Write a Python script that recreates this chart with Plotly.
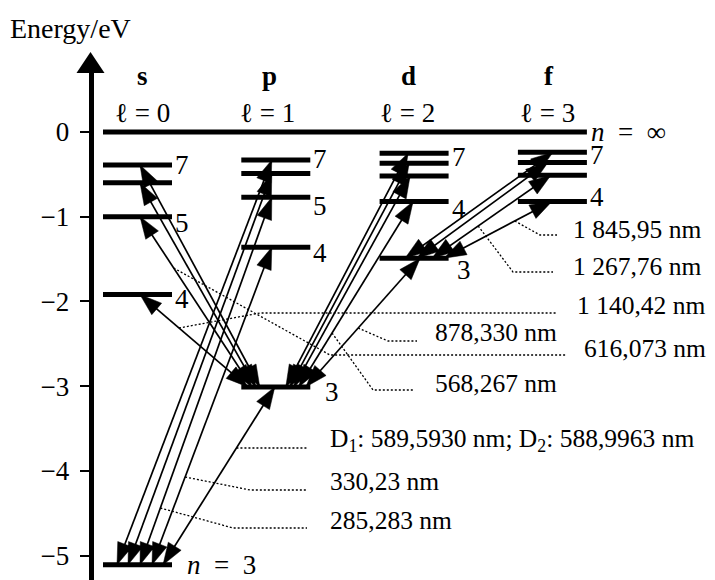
import plotly.graph_objects as go

# ---------------- data ----------------
columns = ["s", "p", "d", "f"]
l_labels = ["ℓ = 0", "ℓ = 1", "ℓ = 2", "ℓ = 3"]

s_n = [3, 4, 5, 6, 7]
s_energy = [-5.11, -1.92, -1.00, -0.60, -0.39]
p_n = [3, 4, 5, 6, 7]
p_energy = [-3.01, -1.36, -0.77, -0.49, -0.33]
d_n = [3, 4, 5, 6, 7]
d_energy = [-1.49, -0.82, -0.52, -0.37, -0.25]
f_n = [4, 5, 6, 7]
f_energy = [-0.82, -0.51, -0.36, -0.24]
ionization_energy = 0.0

energy_ticks = [0, -1, -2, -3, -4, -5]

# transitions between two levels (upper n listed per series)
transitions_s_3p = [4, 5, 6, 7]      # ns  <-> 3p
transitions_p_3s = [3, 4, 5, 6, 7]   # np  <-> 3s
transitions_d_3p = [3, 4, 5, 6, 7]   # nd  <-> 3p
transitions_f_3d = [4, 5, 6, 7]      # nf  <-> 3d

wavelength_labels = ["1 845,95 nm", "1 267,76 nm", "1 140,42 nm", "878,330 nm",
                     "616,073 nm", "568,267 nm",
                     "D<sub>1</sub>: 589,5930 nm; D<sub>2</sub>: 588,9963 nm",
                     "330,23 nm", "285,283 nm"]
wavelength_lines = [("f", 4), ("f", 5), ("s", 4), ("d", 3), ("s", 5), ("d", 4),
                    ("p", 3), ("p", 4), ("p", 5)]

# numbers written next to levels
level_number_labels = [("s", 7), ("s", 5), ("s", 4), ("p", 7), ("p", 5), ("p", 4),
                       ("p", 3), ("d", 7), ("d", 4), ("d", 3), ("f", 7), ("f", 4)]

# ---------------- layout geometry ----------------
# the page body has an 8 px margin, so the figure starts at screen (8, 8)
PAGE = 8
SW, SH = 715, 580            # screen size
W, H = SW - PAGE, SH - PAGE  # figure size
TOP_PX = 70                  # screen y of the top of the plot area
MT = TOP_PX - PAGE
X_PX0, COL_PX = 137.5, 138.3  # screen px of column 0 centre, px per column
E_PX0, EV_PX = 132.0, 84.7    # screen px of 0 eV, px per eV
HALF = 34.5 / COL_PX          # half width of a level bar
AXIS_PX = 90.5


def xd(px):
    return (px - X_PX0) / COL_PX


def yd(py):
    return (E_PX0 - py) / EV_PX


x_range = [xd(PAGE), xd(SW)]
y_range = [yd(SH), yd(TOP_PX)]
PXX = W / (x_range[1] - x_range[0])
PXY = (H - MT) / (y_range[1] - y_range[0])


def paper_x(px):
    return (px - PAGE) / W


def paper_y(py):
    return (SH - py) / (H - MT)


FONT = "Liberation Serif, Times New Roman, serif"
levels = {"s": dict(zip(s_n, s_energy)), "p": dict(zip(p_n, p_energy)),
          "d": dict(zip(d_n, d_energy)), "f": dict(zip(f_n, f_energy))}
ci = {c: i for i, c in enumerate(columns)}

fig = go.Figure()

# ---- level bars ----
lx, ly = [], []
for c in columns:
    for n, e in levels[c].items():
        lx += [ci[c] - HALF, ci[c] + HALF, None]
        ly += [e, e, None]
lx += [ci["s"] - HALF, ci["f"] + HALF, None]
ly += [ionization_energy, ionization_energy, None]
fig.add_trace(go.Scatter(x=lx, y=ly, mode="lines", line=dict(color="black", width=5),
                         hoverinfo="skip", showlegend=False))

# ---- transitions: endpoint offsets (px from column centre) ----
s3p_s_off = {4: 2.5, 5: 2.5, 6: 2.5, 7: 2.5}
s3p_p_off = {4: -28, 5: -24, 6: -20, 7: -16}
p3s_p_off = {3: -1, 4: -4, 5: -4, 6: -4, 7: -4}
p3s_s_off = {3: 25.5, 4: 14.5, 5: 2.5, 6: -9.5, 7: -20.5}
d3p_p_off = {3: 30, 4: 23, 5: 18, 6: 14, 7: 10}
d3p_d_off = {3: 6, 4: -1, 5: -4, 6: -5, 7: -6}
f3d_d_off = {4: 30, 5: 18, 6: 3, 7: -9}
f3d_f_off = {4: -0.5, 5: -1.5, 6: -4.5, 7: 0.5}

segments = {}
for n in transitions_s_3p:
    segments[("s", n)] = ((ci["p"] + s3p_p_off[n] / COL_PX, levels["p"][3]),
                          (ci["s"] + s3p_s_off[n] / COL_PX, levels["s"][n]))
for n in transitions_p_3s:
    segments[("p", n)] = ((ci["s"] + p3s_s_off[n] / COL_PX, levels["s"][3]),
                          (ci["p"] + p3s_p_off[n] / COL_PX, levels["p"][n]))
for n in transitions_d_3p:
    segments[("d", n)] = ((ci["p"] + d3p_p_off[n] / COL_PX, levels["p"][3]),
                          (ci["d"] + d3p_d_off[n] / COL_PX, levels["d"][n]))
for n in transitions_f_3d:
    segments[("f", n)] = ((ci["d"] + f3d_d_off[n] / COL_PX, levels["d"][3]),
                          (ci["f"] + f3d_f_off[n] / COL_PX, levels["f"][n]))

HEAD_L, HEAD_W = 22.0, 7.6


def head(tip, tail):
    tx, ty = tip[0] * PXX, tip[1] * PXY
    bx, by = tail[0] * PXX, tail[1] * PXY
    dx, dy = bx - tx, by - ty
    ln = (dx * dx + dy * dy) ** 0.5
    ux, uy = dx / ln, dy / ln
    cx, cy = tx + HEAD_L * ux, ty + HEAD_L * uy
    nx, ny = -uy, ux
    pts = [(tx, ty), (cx + HEAD_W * nx, cy + HEAD_W * ny),
           (cx - HEAD_W * nx, cy - HEAD_W * ny), (tx, ty)]
    return [p[0] / PXX for p in pts], [p[1] / PXY for p in pts]


ax_, ay_, hx, hy = [], [], [], []
for key, (a, b) in segments.items():
    ax_ += [a[0], b[0], None]
    ay_ += [a[1], b[1], None]
    for tip, tail in ((a, b), (b, a)):
        xs, ys = head(tip, tail)
        hx += xs + [None]
        hy += ys + [None]

fig.add_trace(go.Scatter(x=ax_, y=ay_, mode="lines", line=dict(color="black", width=1.7),
                         hoverinfo="skip", showlegend=False))
fig.add_trace(go.Scatter(x=hx, y=hy, mode="lines", fill="toself", fillcolor="black",
                         line=dict(color="black", width=0.5), hoverinfo="skip",
                         showlegend=False))

# ---- leader lines and wavelength labels (screen px) ----
leader_geom = [  # start y on line, elbow, end, label left/centre
    (221, (540, 235), (557, 235), (571, 229)),
    (226, (513, 272), (553, 272), (571, 266)),
    (328, (260, 313), (557, 313), (575, 305)),
    (328, (388, 341), (417, 341), (433, 332)),
    (268, (330, 355), (567, 355), (582, 348)),
    (333, (373, 390), (413, 390), (433, 383)),
    (448, None, (307, 448), (328, 440)),
    (477, (250, 490), (307, 490), (328, 481)),
    (508, (233, 528), (307, 528), (328, 520)),
]

for key, text, (sy, elbow, end, lab) in zip(wavelength_lines, wavelength_labels, leader_geom):
    a, b = segments[key]
    e = yd(sy)
    t = (e - a[1]) / (b[1] - a[1])
    xs = [a[0] + t * (b[0] - a[0])]
    ys = [e]
    if elbow is not None:
        xs.append(xd(elbow[0]))
        ys.append(yd(elbow[1]))
    xs.append(xd(end[0]))
    ys.append(yd(end[1]))
    fig.add_trace(go.Scatter(x=xs, y=ys, mode="lines",
                             line=dict(color="black", width=1.3, dash="2px,2px"),
                             hoverinfo="skip", showlegend=False))
    fig.add_annotation(x=xd(lab[0]), y=yd(lab[1]), text=text, showarrow=False,
                       xanchor="left", yanchor="middle",
                       font=dict(family=FONT, size=25.5, color="black"))

# level numbers
num_dy = {("s", 7): 0, ("s", 5): 6, ("s", 4): 4, ("p", 7): -1, ("p", 5): 9, ("p", 4): 6,
          ("p", 3): 5, ("d", 7): 4, ("d", 4): 8, ("d", 3): 12, ("f", 7): 3, ("f", 4): -4}
num_dx = {("p", 3): 12, ("d", 3): 5}
for c, n in level_number_labels:
    e = levels[c][n]
    fig.add_annotation(x=ci[c] + HALF + (1 + num_dx.get((c, n), 0)) / COL_PX,
                       y=e - num_dy[(c, n)] / EV_PX, text=str(n), showarrow=False,
                       xanchor="left", yanchor="middle",
                       font=dict(family=FONT, size=27, color="black"))

fig.add_annotation(x=ci["s"] + HALF + 13 / COL_PX, y=levels["s"][3],
                   text="<i>n</i>\u2002=\u20023",
                   showarrow=False, xanchor="left", yanchor="middle",
                   font=dict(family=FONT, size=27, color="black"))
fig.add_annotation(x=ci["f"] + HALF + 2 / COL_PX, y=ionization_energy,
                   text="<i>n</i>\u2002=\u2002∞",
                   showarrow=False, xanchor="left", yanchor="middle",
                   font=dict(family=FONT, size=27, color="black"))

# column headers
hdr_px = [142.5, 269.5, 408.5, 548.5]
l_px = [142, 267, 407.5, 547.5]
for c, lab, hp, lp in zip(columns, l_labels, hdr_px, l_px):
    fig.add_annotation(x=xd(hp), y=yd(76), text="<b>%s</b>" % c, showarrow=False,
                       xanchor="center", yanchor="middle",
                       font=dict(family=FONT, size=27, color="black"))
    fig.add_annotation(x=xd(lp), y=yd(113), text=lab, showarrow=False,
                       xanchor="center", yanchor="middle",
                       font=dict(family=FONT, size=27, color="black"))

# axis title
fig.add_annotation(xref="paper", yref="paper", x=0, y=paper_y(28),
                   text="Energy/eV", showarrow=False, xanchor="left", yanchor="middle",
                   font=dict(family=FONT, size=28, color="black"))

# arrow head on top of the energy axis
fig.add_shape(type="path", xref="paper", yref="paper",
              path="M %f,%f L %f,%f L %f,%f Z" % (
                  paper_x(AXIS_PX - 14), paper_y(73), paper_x(AXIS_PX + 14), paper_y(73),
                  paper_x(AXIS_PX), paper_y(52)),
              fillcolor="black", line=dict(color="black", width=0))

fig.update_layout(
    width=W, height=H,
    margin=dict(l=0, r=0, t=MT, b=0, autoexpand=False),
    paper_bgcolor="white", plot_bgcolor="white",
    xaxis=dict(range=x_range, visible=False, fixedrange=True),
    yaxis=dict(range=y_range, anchor="free", position=paper_x(AXIS_PX),
               showline=True, linewidth=4.5, linecolor="black",
               ticks="outside", ticklen=9, tickwidth=2, tickcolor="black",
               tickvals=energy_ticks,
               ticktext=[("−%d" % -v) if v < 0 else str(v) for v in energy_ticks],
               tickfont=dict(family=FONT, size=27, color="black"),
               showgrid=False, zeroline=False, fixedrange=True, automargin=False,
               ticklabelstandoff=5),
    showlegend=False,
)

fig.write_html("out.html")
